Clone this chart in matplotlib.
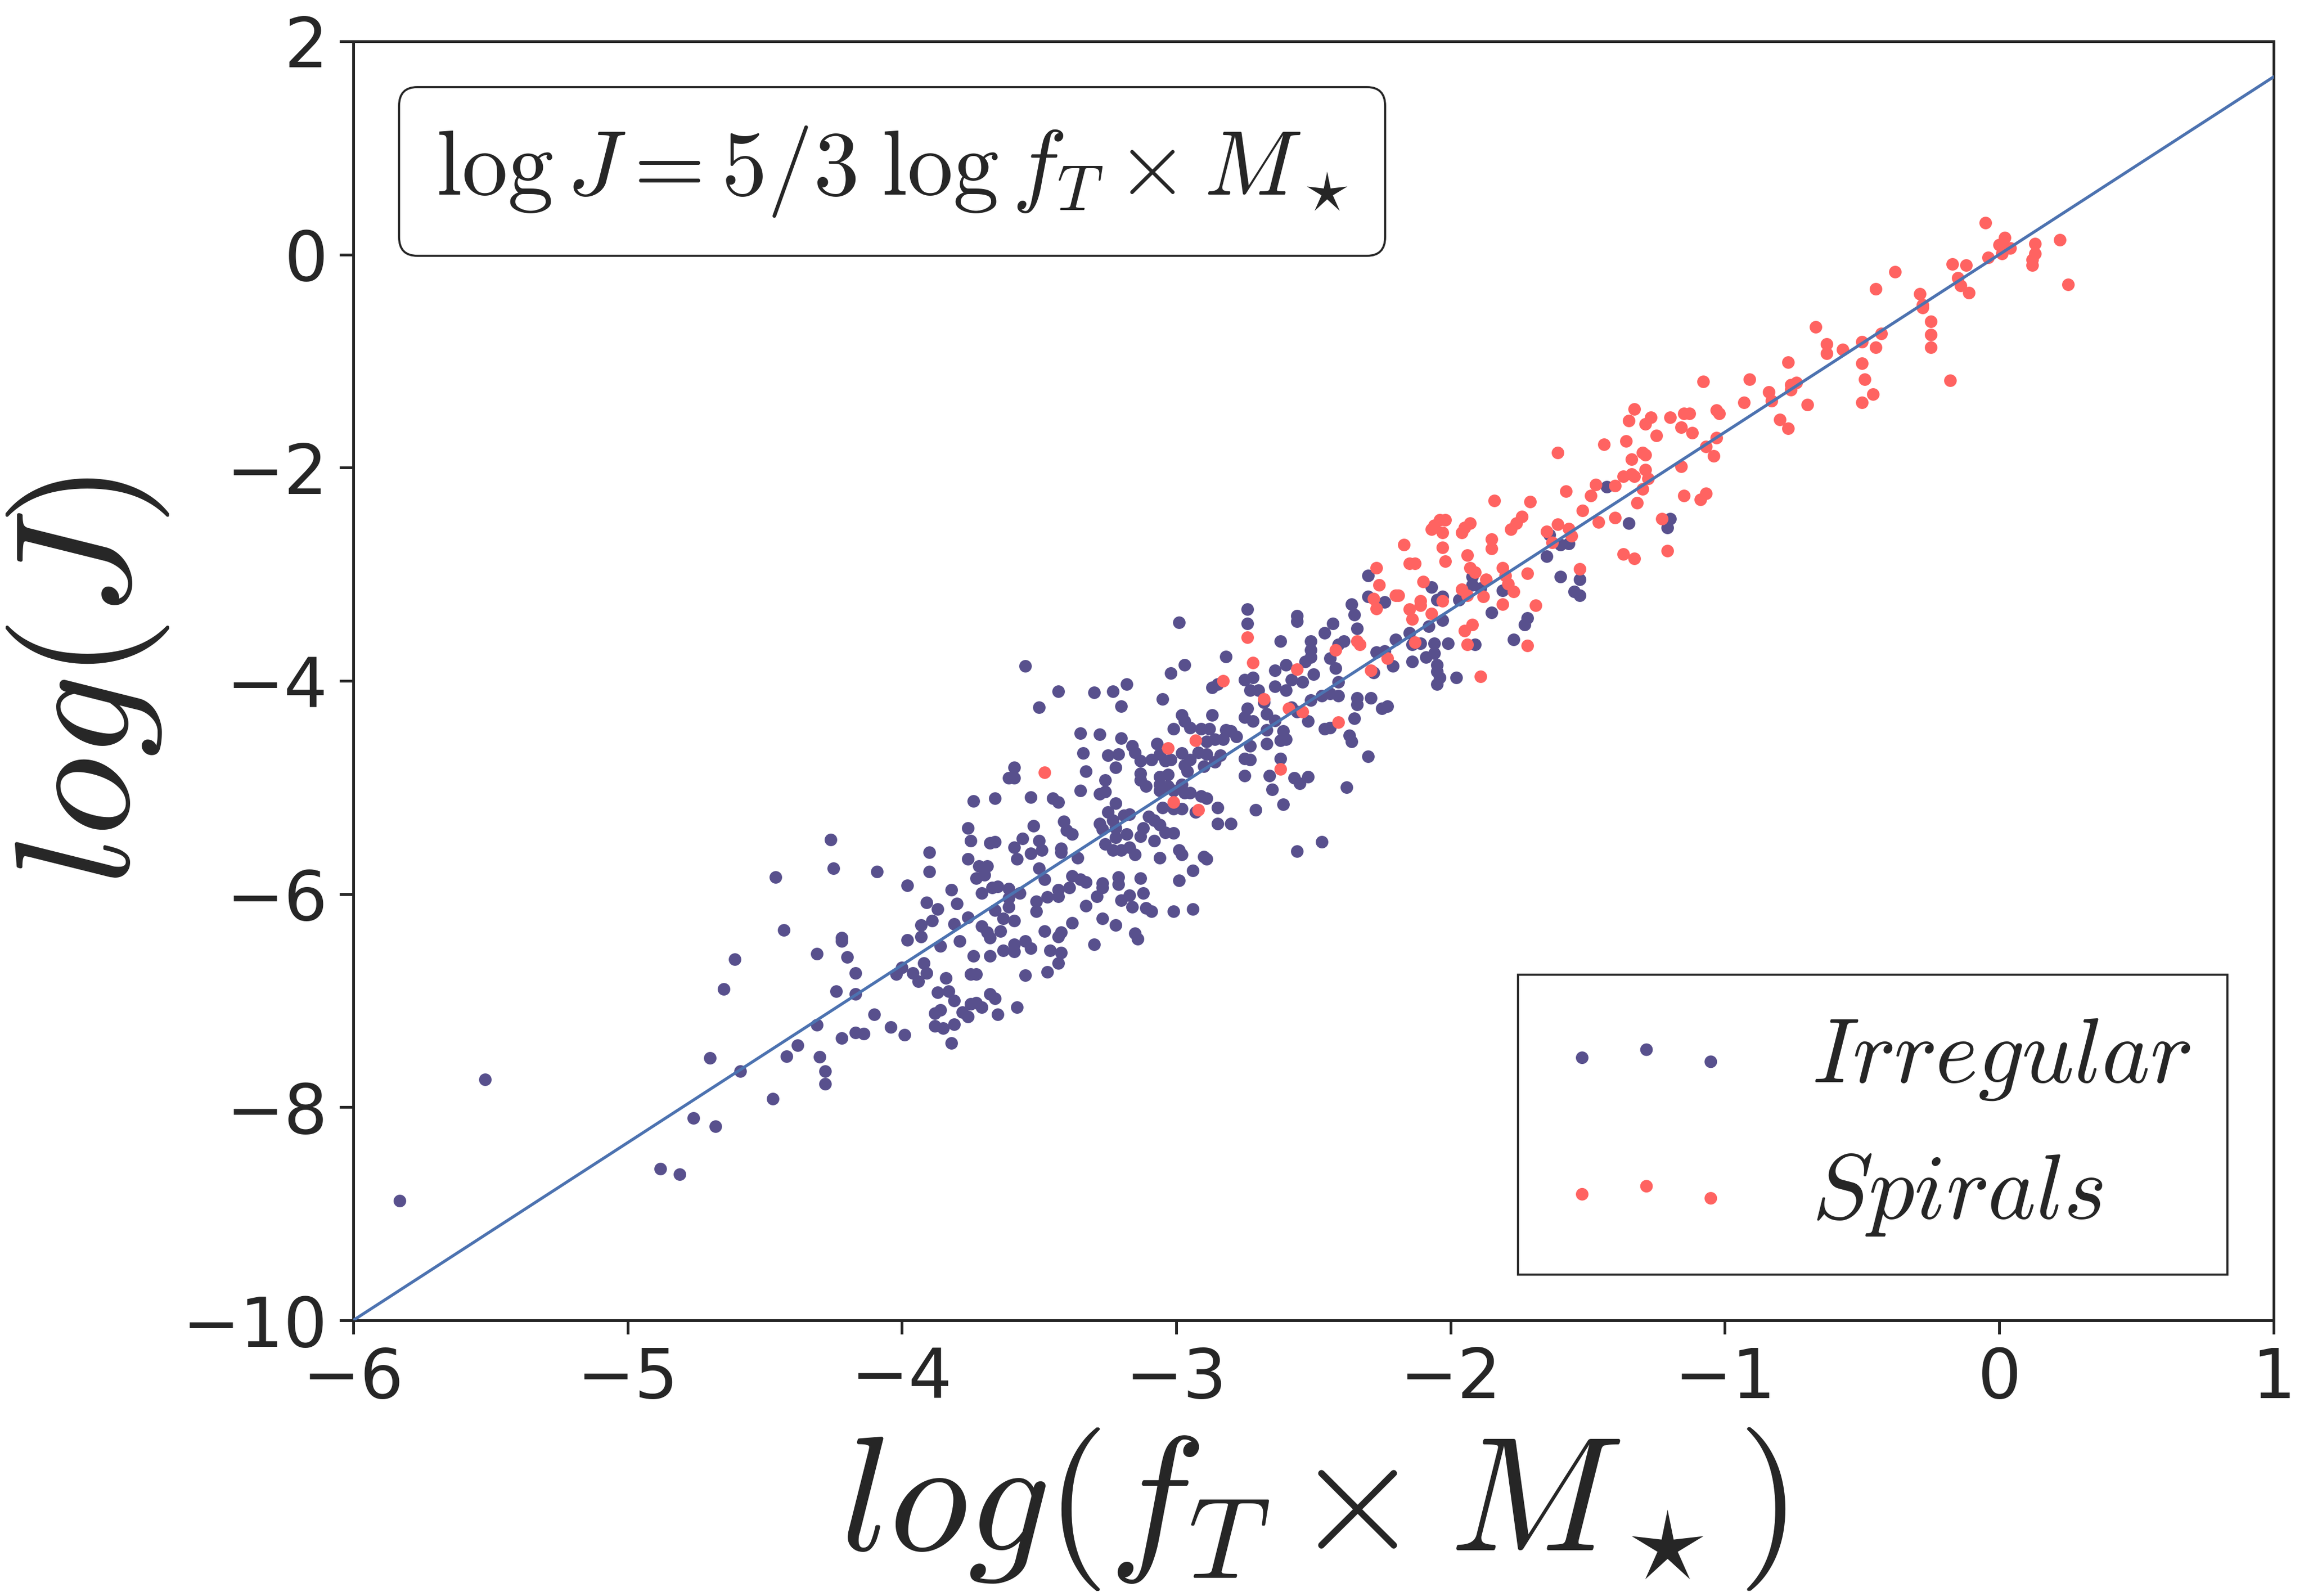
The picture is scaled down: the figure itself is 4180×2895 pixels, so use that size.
import numpy as np
import matplotlib
matplotlib.use("Agg")
import matplotlib.pyplot as plt
from matplotlib.offsetbox import AnchoredText

# ---------------- data ----------------
irr_x = [
    -5.83, -5.52, -4.88, -4.81, -4.76, -4.68, -4.70, -4.59, -4.47, -4.65, -4.61, -4.46, -4.43, -4.31, -4.31,
    -4.38, -4.42, -4.30, -4.28, -4.28,
    -3.59, -3.61, -3.59, -3.74, -3.66, -3.53, -3.45, -3.43, -3.41, -3.52, -3.76, -3.75, -3.68, -3.66, -3.56,
    -3.50, -3.59, -3.53, -3.49, -3.58, -3.40, -3.42, -3.42, -4.26, -4.25, -4.09, -3.90, -3.90, -3.98, -3.76,
    -3.72, -3.69, -3.73, -3.70, -3.82, -3.71, -3.67, -3.65, -3.61, -3.57, -3.61, -3.50, -3.48, -3.38, -3.43,
    -3.47, -3.51, -3.43, -3.39, -3.51, -3.91, -3.87, -3.80, -3.89, -3.93, -3.81, -3.76, -3.66, -3.61, -3.59,
    -3.63, -3.71, -3.69, -3.64, -3.68, -3.48, -3.42, -3.43, -3.38, -3.93, -3.98, -4.22, -4.22, -3.79, -3.86,
    -3.74, -3.68, -3.63, -3.59, -3.55, -3.59, -3.53, -3.46, -3.42, -3.43, -4.20, -4.17, -4.00, -4.02, -3.96,
    -3.92, -3.91, -3.94, -3.84, -3.75, -3.73, -3.55, -3.47, -4.24, -4.17, -3.87, -3.83, -3.81, -3.68, -3.66,
    -3.75, -3.73, -3.71, -3.58, -3.86, -3.88, -3.78, -3.76, -3.65, -4.10, -4.04, -3.99, -4.17, -4.14, -4.22,
    -3.88, -3.85, -3.81, -3.82,
    -3.55, -3.43, -3.50,
    -2.74, -2.74, -2.56, -2.56, -2.99, -2.62, -2.51, -2.82, -2.97, -3.02, -2.51, -2.51, -2.53, -2.60, -2.64,
    -2.50, -2.54, -2.58, -2.64, -2.60, -2.85, -2.87, -2.75, -2.72, -2.73, -2.70, -2.68, -2.51, -2.52, -2.58,
    -2.56, -2.74, -2.75, -2.72, -2.67, -2.67, -2.64, -2.61, -2.62, -2.60, -2.67, -2.73, -2.75, -2.73, -2.62,
    -2.75, -2.66, -2.57, -2.55, -2.52, -2.65, -2.61, -2.71, -2.56, -2.47, -2.87, -2.98, -2.97, -2.95, -2.91,
    -2.88, -2.82, -2.80, -2.78, -2.83, -2.86, -2.89, -3.01, -3.05, -3.07, -3.06, -2.98, -2.92, -2.89, -2.84,
    -2.86, -2.90, -2.95, -2.97, -2.96, -3.02, -3.04, -3.09, -3.13, -3.16, -3.15, -3.20, -3.21, -3.25, -3.35,
    -3.28, -3.34, -3.33, -3.22, -3.26, -3.28, -3.26, -3.35, -3.30, -3.23, -3.18, -3.20, -3.13, -3.13, -3.11,
    -3.06, -3.03, -3.06, -3.03, -3.06, -3.01, -2.98, -2.97, -2.95, -2.91, -2.89, -2.98, -3.01, -3.05, -2.93,
    -2.85, -2.85, -2.80, -3.22, -3.25, -3.19, -3.17, -3.28, -3.23, -3.27, -3.22, -3.22, -3.18, -3.13, -3.12,
    -3.10, -3.08, -3.06, -3.04, -3.01, -3.08, -3.38, -3.26, -3.23, -3.20, -3.17, -3.15, -3.36, -3.06, -2.99,
    -2.98, -2.90, -2.89, -2.94, -2.99, -3.35, -3.33, -3.27, -3.27, -3.21, -3.21, -3.13, -3.12, -3.17, -3.20,
    -3.29, -3.33, -3.16, -3.11, -3.09, -3.01, -2.94, -3.27, -3.22, -3.15, -3.14, -3.30,
    -2.30, -2.30, -2.24, -2.36, -2.35, -2.34, -2.43, -2.46, -2.39, -2.41, -2.44, -2.42, -2.27, -2.24, -2.21,
    -2.20, -2.28, -2.41, -2.47, -2.44, -2.41, -2.34, -2.34, -2.29, -2.25, -2.23, -2.35, -2.46, -2.44, -2.37,
    -2.36, -2.30, -2.38, -2.07, -2.08, -2.15, -2.14, -2.11, -2.14, -2.09, -2.06, -2.06, -2.05, -2.05, -2.04,
    -2.05, -2.01, -1.98, -2.03, -2.05, -2.03, -1.92, -1.92, -1.97, -1.89, -1.81, -1.85, -1.91, -1.77, -1.73,
    -1.72, -1.65, -1.60, -1.57, -1.60, -1.53, -1.55, -1.53, -1.64,
    -1.43, -1.35, -1.20, -1.21,
]
irr_y = [
    -8.88, -7.74, -8.58, -8.63, -8.10, -8.18, -7.54, -7.66, -7.92, -6.89, -6.61, -5.84, -6.34, -6.56, -7.23,
    -7.42, -7.52, -7.53, -7.66, -7.78,
    -4.81, -4.91, -4.91, -5.13, -5.10, -5.09, -5.10, -5.14, -5.32, -5.36, -5.38, -5.50, -5.52, -5.51, -5.48,
    -5.50, -5.56, -5.62, -5.59, -5.67, -5.40, -5.57, -5.61, -5.49, -5.76, -5.79, -5.61, -5.79, -5.92, -5.67,
    -5.74, -5.74, -5.85, -5.82, -5.96, -5.99, -5.94, -5.93, -5.95, -5.99, -6.04, -5.76, -5.86, -5.83, -5.96,
    -6.03, -6.07, -6.02, -5.94, -6.16, -6.08, -6.14, -6.09, -6.25, -6.29, -6.28, -6.22, -6.15, -6.12, -6.25,
    -6.23, -6.30, -6.36, -6.35, -6.41, -6.35, -6.36, -6.40, -6.27, -6.40, -6.43, -6.41, -6.44, -6.44, -6.49,
    -6.58, -6.58, -6.53, -6.47, -6.44, -6.54, -6.51, -6.53, -6.55, -6.65, -6.59, -6.74, -6.69, -6.75, -6.74,
    -6.65, -6.74, -6.82, -6.79, -6.75, -6.75, -6.76, -6.73, -6.91, -6.94, -6.92, -6.91, -7.00, -6.94, -6.98,
    -7.03, -7.02, -7.06, -7.06, -7.09, -7.12, -7.11, -7.15, -7.13, -7.13, -7.25, -7.32, -7.30, -7.31, -7.35,
    -7.24, -7.26, -7.22, -7.40,
    -3.86, -4.10, -4.25,
    -3.33, -3.46, -3.39, -3.44, -3.45, -3.63, -3.63, -3.77, -3.85, -3.93, -3.71, -3.78, -3.82, -3.85, -3.90,
    -3.94, -4.01, -3.99, -4.05, -4.09, -4.03, -4.06, -3.99, -3.97, -4.09, -4.09, -4.20, -4.18, -4.38, -4.25,
    -4.29, -4.26, -4.34, -4.38, -4.31, -4.46, -4.37, -4.47, -4.56, -4.55, -4.59, -4.61, -4.73, -4.74, -4.73,
    -4.89, -4.89, -4.91, -4.96, -4.90, -5.02, -5.16, -5.21, -5.60, -5.51, -4.32, -4.32, -4.38, -4.44, -4.45,
    -4.45, -4.46, -4.47, -4.52, -4.55, -4.55, -4.57, -4.45, -4.17, -4.59, -4.69, -4.68, -4.67, -4.69, -4.70,
    -4.76, -4.80, -4.74, -4.79, -4.85, -4.74, -4.75, -4.74, -4.75, -4.61, -4.67, -4.54, -4.69, -4.70, -4.49,
    -4.50, -4.68, -4.85, -4.81, -4.93, -5.06, -5.04, -5.03, -4.11, -4.10, -4.03, -4.24, -4.87, -4.93, -4.99,
    -4.90, -4.88, -4.97, -4.99, -5.03, -5.03, -4.97, -5.05, -5.05, -5.08, -5.10, -5.20, -5.20, -5.19, -5.23,
    -5.19, -5.34, -5.34, -5.15, -5.23, -5.26, -5.25, -5.34, -5.31, -5.39, -5.38, -5.47, -5.44, -5.46, -5.38,
    -5.27, -5.31, -5.35, -5.42, -5.43, -5.50, -5.44, -5.53, -5.59, -5.59, -5.56, -5.63, -5.66, -5.66, -5.59,
    -5.63, -5.65, -5.67, -5.78, -5.87, -5.86, -5.89, -5.90, -5.94, -5.84, -5.91, -5.85, -5.99, -6.01, -6.06,
    -6.02, -6.11, -6.12, -6.13, -6.16, -6.16, -6.14, -6.23, -6.29, -6.37, -6.42, -6.47,
    -3.01, -3.21, -3.26, -3.28, -3.38, -3.51, -3.46, -3.55, -3.63, -3.66, -3.79, -3.88, -3.73, -3.72, -3.86,
    -3.61, -3.92, -4.01, -4.14, -4.12, -4.14, -4.16, -4.22, -4.16, -4.26, -4.24, -4.35, -4.45, -4.44, -4.51,
    -4.57, -4.71, -5.00, -3.12, -3.49, -3.55, -3.66, -3.65, -3.82, -3.78, -3.65, -3.74, -3.85, -3.91, -3.97,
    -4.03, -3.65, -3.97, -3.43, -3.24, -3.21, -3.02, -3.10, -3.24, -3.13, -3.15, -3.36, -3.66, -3.61, -3.47,
    -3.41, -2.83, -2.72, -2.71, -3.02, -3.05, -3.16, -3.20, -2.63,
    -2.18, -2.52, -2.48, -2.56,
]

spi_x = [
    -3.48,
    -2.74, -2.72, -2.56, -2.83, -2.68, -2.59, -2.54, -2.62, -2.93, -3.03, -3.01, -2.92,
    -2.17, -2.15, -2.13, -2.27, -2.26, -2.28, -2.27, -2.20, -2.19, -2.42, -2.34, -2.33, -2.23, -2.29, -2.41,
    -2.10, -2.11, -2.11, -2.15, -2.14, -2.07, -2.13, -2.03, -2.03, -2.02, -1.94, -1.93, -1.91, -1.96, -1.94,
    -1.87, -1.88, -1.85, -1.85, -1.81, -1.80, -1.79, -1.77, -1.81, -1.92, -1.95, -1.94, -1.89, -1.72, -1.72,
    -1.69, -1.63, -1.53,
    -1.61, -1.58, -1.52, -1.84, -1.71, -1.74, -1.76, -1.78, -1.61, -1.65, -1.57, -1.56, -2.04, -2.02, -2.06,
    -2.07, -2.03, -1.93, -1.95, -1.96,
    -0.77, -0.50, -0.49, -0.46, -0.50, -1.08, -0.91, -0.93, -0.84, -0.83, -0.76, -0.74, -0.76, -0.70, -0.80,
    -0.77, -1.33, -1.35, -1.27, -1.29, -1.20, -1.15, -1.13, -1.16, -1.12, -1.25, -1.03, -1.02, -1.44, -1.36,
    -1.30, -1.29, -1.34, -1.07, -1.03, -1.04, -1.16, -1.37, -1.34, -1.33, -1.29, -1.28, -1.47, -1.40, -1.30,
    -1.32, -1.49, -1.46, -1.40, -1.23, -1.21, -1.37, -1.33, -1.15, -1.09, -1.07,
    -0.67, -0.63, -0.63, -0.57, -0.50,
    -0.05, 0.02, 0.00, 0.02, 0.04, 0.01, -0.04, 0.13, 0.13, 0.12, 0.12, 0.22, 0.25, -0.17, -0.12,
    -0.15, -0.14, -0.11, -0.38, -0.45, -0.29, -0.28, -0.28, -0.25, -0.25, -0.25, -0.43, -0.45, -0.18,
]
spi_y = [
    -4.86,
    -3.59, -3.83, -3.89, -4.00, -4.17, -4.26, -4.29, -4.83, -4.56, -4.63, -5.14, -5.21,
    -2.72, -2.90, -2.90, -2.94, -3.10, -3.23, -3.32, -3.20, -3.20, -3.71, -3.63, -3.66, -3.79, -3.90, -4.39,
    -3.07, -3.25, -3.29, -3.33, -3.42, -3.37, -3.64, -3.25, -2.75, -2.88, -2.82, -2.94, -2.98, -3.14, -3.20,
    -3.05, -3.21, -2.67, -2.76, -2.94, -3.01, -3.09, -3.16, -3.28, -3.47, -3.53, -3.66, -3.96, -3.67, -2.99,
    -3.29, -2.70, -2.95,
    -1.86, -2.22, -2.40, -2.31, -2.32, -2.46, -2.52, -2.58, -2.53, -2.60, -2.57, -2.64, -2.49, -2.49, -2.54,
    -2.58, -2.61, -2.52, -2.56, -2.61,
    -1.01, -1.02, -1.17, -1.31, -1.39, -1.19, -1.17, -1.39, -1.29, -1.37, -1.22, -1.20, -1.27, -1.41, -1.55,
    -1.63, -1.45, -1.56, -1.53, -1.59, -1.53, -1.49, -1.49, -1.62, -1.67, -1.70, -1.46, -1.49, -1.78, -1.75,
    -1.86, -1.88, -1.92, -1.80, -1.72, -1.89, -1.99, -2.08, -2.06, -2.08, -2.02, -2.10, -2.16, -2.17, -2.20,
    -2.33, -2.26, -2.51, -2.47, -2.48, -2.78, -2.81, -2.85, -2.26, -2.30, -2.24,
    -0.68, -0.84, -0.93, -0.89, -0.82,
    0.30, 0.16, 0.09, 0.06, 0.06, 0.01, -0.03, 0.10, 0.01, -0.05, -0.10, 0.14, -0.28, -0.09, -0.10,
    -0.22, -0.29, -0.36, -0.16, -0.32, -0.37, -0.47, -0.50, -0.63, -0.75, -0.87, -0.74, -0.87, -1.18,
]

fit_slope = 5.0 / 3.0
x_limits = (-6, 1)
y_limits = (-10, 2)
x_ticks = [-6, -5, -4, -3, -2, -1, 0, 1]
y_ticks = [-10, -8, -6, -4, -2, 0, 2]
series_labels = [r'$Irregular$', r'$Spirals$']
box_text = r'$\log J = 5/3\;\log f_T \times M_\star$'
x_label = r'$log(f_T \times M_\star)$'
y_label = r'$log(J)$'

# ---------------- style ----------------
plt.rcParams['font.family'] = ['DejaVu Sans']
plt.rcParams['mathtext.fontset'] = 'cm'
dark = '#262626'
purple = '#58508d'
red = '#ff6361'
blue = '#4c72b0'

fig = plt.figure(figsize=(4180 / 300, 2895 / 300), dpi=300)
ax = fig.add_axes([0.1533, 0.1727, 0.9868 - 0.1533, 0.9741 - 0.1727])

ax.scatter(irr_x, irr_y, s=30, color=purple, linewidths=0, label=series_labels[0], zorder=2)
ax.scatter(spi_x, spi_y, s=30, color=red, linewidths=0, label=series_labels[1], zorder=3)

xl = np.array(x_limits, dtype=float)
ax.plot(xl, fit_slope * xl, color=blue, lw=1.3, zorder=4)

ax.set_xlim(*x_limits)
ax.set_ylim(*y_limits)
ax.set_xticks(x_ticks)
ax.set_yticks(y_ticks)
ax.tick_params(axis='both', which='major', labelsize=30, direction='out', length=6,
               width=1.2, color=dark, labelcolor=dark, pad=5)
for sp in ax.spines.values():
    sp.set_color(dark)
    sp.set_linewidth(1.2)

ax.set_xlabel(x_label, fontsize=71, color=dark, labelpad=6)
ax.set_ylabel(y_label, fontsize=71, color=dark, labelpad=5)

at = AnchoredText(box_text, loc='upper left', prop=dict(size=40, color=dark),
                  frameon=True, pad=0.4, borderpad=0.5)
at.patch.set_boxstyle('round,pad=0.,rounding_size=0.2')
at.patch.set_edgecolor(dark)
at.patch.set_linewidth(0.9)
ax.add_artist(at)

leg = ax.legend(loc='lower right', fontsize=40, scatterpoints=3, fancybox=False,
                frameon=True, edgecolor=dark, framealpha=1.0)
leg.get_frame().set_linewidth(0.9)
for t in leg.get_texts():
    t.set_color(dark)

fig.savefig('out.png', dpi=300)
